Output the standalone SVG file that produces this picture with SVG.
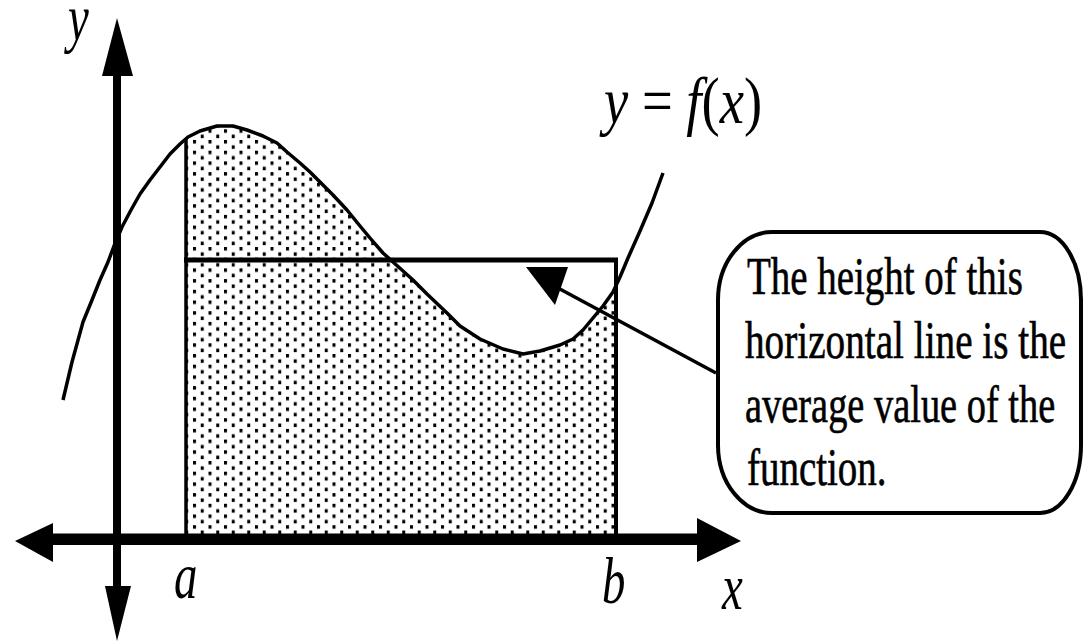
<svg xmlns="http://www.w3.org/2000/svg" width="1084" height="641" viewBox="0 0 1084 641">
<style>
.ln{fill:none;stroke:#000;stroke-linejoin:round;stroke-linecap:butt}
.ah{fill:#000;stroke:none}
.math{font-family:"Liberation Serif","Times New Roman",serif;font-style:italic;font-size:65px;fill:#000}
.up{font-style:normal}
.note{font-family:"Liberation Serif","Times New Roman",serif;font-size:53px;fill:#000;stroke:#000;stroke-width:0.6}
</style>
<defs>
<pattern id="dots" patternUnits="userSpaceOnUse" x="193" y="140" width="15.5" height="10.7">
<rect x="0" y="0" width="3" height="3.5" fill="#000"/>
<rect x="7.75" y="5.35" width="3" height="3.5" fill="#000"/>
</pattern>
</defs>
<rect width="1084" height="641" fill="#fff"/>

<g id="region">
<polygon fill="url(#dots)" points="186,139 200,131 217,126 233,126 247,130 263,136 277,143 287,152 300,163 310,172 323,185 333,195 347,210 360,226 370,238 383,253 393,262 413,280 427,294 447,313 460,326 480,339 503,349 523,354 540,351 560,345 573,339 583,330 593,318 603,306 613,292 616,285 616,534 186,534"/>
</g>

<g id="curve">
<polyline class="ln" stroke-width="3.5" points="63,400 72,362 83,322 92,300 100,280 108,262 114,246 122,227 131,210 140,194 150,180 160,167 170,154 180,144 188,137 200,131 217,126 233,126 247,130 263,136 277,143 287,152 300,163 310,172 323,185 333,195 347,210 360,226 370,238 383,253 393,262 413,280 427,294 447,313 460,326 480,339 503,349 523,354 540,351 560,345 573,339 583,330 593,318 603,306 613,292 620,277 628,258 640,231 652,203 663,173"/>
</g>

<g id="average-rectangle">
<line class="ln" x1="186" y1="138" x2="186" y2="534" stroke-width="3.5"/>
<line class="ln" x1="184" y1="260" x2="618" y2="260" stroke-width="5"/>
<line class="ln" x1="616" y1="258" x2="616" y2="534" stroke-width="4"/>
</g>

<g id="axes">
<rect x="113" y="70" width="8" height="520" fill="#000"/>
<polygon class="ah" points="117,18 102,76 133,76"/>
<polygon class="ah" points="105,586 131,586 117,641"/>
<rect x="48" y="533.5" width="652" height="11.5" fill="#000"/>
<polygon class="ah" points="15,541 53,523 53,562"/>
<polygon class="ah" points="697,518 741,541 697,562"/>
</g>

<g id="labels">
<text class="math" transform="translate(68,40) scale(0.72,1)">y</text>
<text class="math" transform="translate(174,598) scale(0.72,1)">a</text>
<text class="math" transform="translate(602,603) scale(0.72,1)">b</text>
<text class="math" transform="translate(722,609) scale(0.72,1)">x</text>
<text id="fx-label" class="math" transform="translate(604,123) scale(0.84,1)">y <tspan class="up">=</tspan> f<tspan class="up">(</tspan>x<tspan class="up">)</tspan></text>
</g>

<g id="connectors">
<line class="ln" x1="716" y1="373" x2="558" y2="288" stroke-width="3.5"/>
<polygon class="ah" points="526,267 568,267 555,305"/>
</g>

<g id="callout">
<path class="ln" stroke-width="4" fill="#fff" d="M772,232 H1040 A41,68 0 0 1 1081,300 V445 A41,68 0 0 1 1040,513 H772 A54,68 0 0 1 718,445 V300 A54,68 0 0 1 772,232 Z"/>
<text class="note" transform="translate(747,294) scale(0.735,1)">The height of this</text>
<text class="note" transform="translate(745,358) scale(0.74,1)">horizontal line is the</text>
<text class="note" transform="translate(745,422) scale(0.725,1)">average value of the</text>
<text class="note" transform="translate(747,485) scale(0.735,1)">function.</text>
</g>
</svg>
